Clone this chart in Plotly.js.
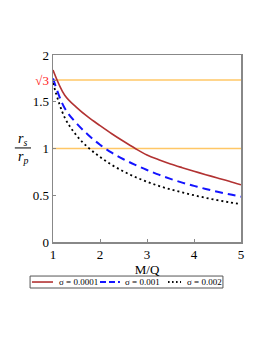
<!DOCTYPE html>
<html>
<head>
<meta charset="utf-8">
<script src="https://cdn.plot.ly/plotly-3.0.1.min.js"></script>
<style>html,body{margin:0;padding:0;background:#fff;}#chart{width:262px;height:339px;}</style>
</head>
<body>
<div id="chart"></div>
<script>
// ---- data ----
const xValues = [1, 1.25, 1.5, 1.75, 2, 2.25, 2.5, 2.75, 3, 3.25, 3.5, 3.75, 4, 4.25, 4.5, 4.75, 5];
const sigma0001 = [1.84, 1.57, 1.44, 1.335, 1.245, 1.158, 1.077, 1.00, 0.93, 0.88, 0.835, 0.795, 0.757, 0.72, 0.685, 0.65, 0.612];
const sigma001  = [1.75, 1.43, 1.27, 1.145, 1.04, 0.955, 0.885, 0.825, 0.77, 0.72, 0.675, 0.635, 0.60, 0.567, 0.537, 0.51, 0.485];
const sigma002  = [1.70, 1.33, 1.14, 1.01, 0.91, 0.825, 0.755, 0.695, 0.645, 0.60, 0.563, 0.53, 0.50, 0.472, 0.447, 0.425, 0.405];
const seriesNames = ['σ = 0.0001', 'σ = 0.001', 'σ = 0.002'];
const refLevels = [1, Math.sqrt(3)];
const xRange = [1, 5];
const yTickVals = [0, 0.5, 1, 1.5, Math.sqrt(3), 2];
const yTickText = ['0', '0.5', '1', '1.5', '<span style="color:#ff2020">√3</span>', '2'];
const xTickVals = [1, 2, 3, 4, 5];

// ---- styles ----
const colors = ['rgb(178,50,50)', 'rgb(20,20,255)', 'rgb(0,0,0)'];
const dashes = ['solid', '8px,5px', '2px,3px'];
const widths = [1.6, 2, 1.8];
const serif = "'Liberation Serif', 'DejaVu Serif', serif";

const seriesY = [sigma0001, sigma001, sigma002];
const traces = [];
refLevels.forEach(v => {
  traces.push({x: xRange, y: [v, v], mode: 'lines', line: {color: '#ffc766', width: 1.6}, showlegend: false, hoverinfo: 'skip'});
});
seriesY.forEach((ys, i) => {
  traces.push({x: xValues, y: ys, mode: 'lines', name: seriesNames[i],
    line: {color: colors[i], dash: dashes[i], width: widths[i], shape: 'spline', smoothing: 1},
    showlegend: false});
});

// manual legend (paper coordinates)
const shapes = [
  {type: 'rect', xref: 'paper', yref: 'paper', x0: -0.122, x1: 0.904, y0: -0.246, y1: -0.182,
   line: {color: '#555', width: 1}, fillcolor: 'rgba(0,0,0,0)'},
  // fraction bar of the y-axis title
  {type: 'line', xref: 'paper', yref: 'paper', x0: -0.203, x1: -0.117, y0: 0.503, y1: 0.503,
   line: {color: '#000', width: 1}}
];
const legX = [[-0.112, 0.0], [0.25, 0.356], [0.612, 0.681]];
const legTextX = [0.021, 0.372, 0.702];
const annotations = [];
for (let i = 0; i < 3; i++) {
  shapes.push({type: 'line', xref: 'paper', yref: 'paper', x0: legX[i][0], x1: legX[i][1], y0: -0.214, y1: -0.214,
    line: {color: colors[i], dash: i === 0 ? 'solid' : (i === 1 ? '6px,3px' : '1.5px,2.5px'), width: widths[i]}});
  annotations.push({xref: 'paper', yref: 'paper', x: legTextX[i], y: -0.214, xanchor: 'left', yanchor: 'middle',
    text: seriesNames[i], showarrow: false, font: {family: serif, size: 9, color: '#000'}});
}
annotations.push({xref: 'paper', yref: 'paper', x: -0.16, y: 0.548, xanchor: 'center', yanchor: 'middle',
  text: '<i>r<sub>s</sub></i>', showarrow: false, font: {family: serif, size: 14, color: '#000'}});
annotations.push({xref: 'paper', yref: 'paper', x: -0.16, y: 0.452, xanchor: 'center', yanchor: 'middle',
  text: '<i>r<sub>p</sub></i>', showarrow: false, font: {family: serif, size: 14, color: '#000'}});

const layout = {
  width: 262, height: 339,
  margin: {l: 53, r: 21, t: 55, b: 97},
  paper_bgcolor: '#fff', plot_bgcolor: '#fff',
  showlegend: false,
  font: {family: serif, size: 13, color: '#000'},
  xaxis: {
    range: xRange, tickvals: xTickVals, ticks: 'inside', ticklen: 3, tickcolor: '#888',
    showgrid: false, zeroline: false, showline: true, mirror: true, linecolor: '#888', linewidth: 1.5,
    tickfont: {family: serif, size: 13, color: '#000'},
    title: {text: 'M/Q', font: {family: serif, size: 13, color: '#000'}, standoff: 0}
  },
  yaxis: {
    range: [0, 2], tickvals: yTickVals, ticktext: yTickText, ticks: 'inside', ticklen: 3, tickcolor: '#888',
    showgrid: false, zeroline: false, showline: true, mirror: true, linecolor: '#888', linewidth: 1.5,
    tickfont: {family: serif, size: 13, color: '#000'}
  },
  shapes: shapes,
  annotations: annotations
};

Plotly.newPlot('chart', traces, layout, {displayModeBar: false, staticPlot: true});
</script>
</body>
</html>
